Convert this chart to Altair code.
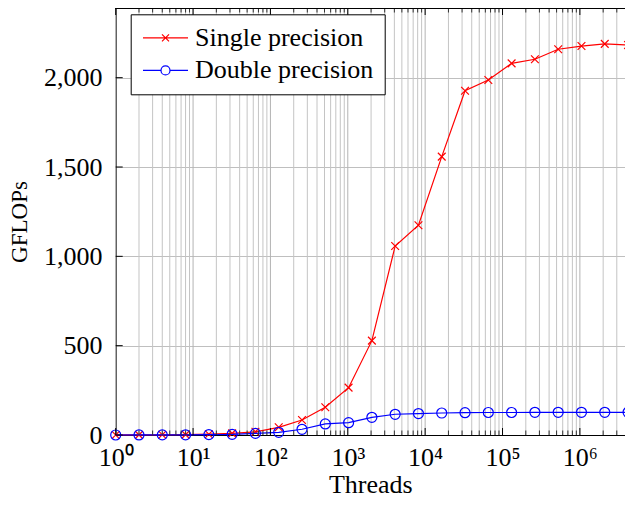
import altair as alt
import pandas as pd

# ---------------- data ----------------
threads = [1, 2, 4, 8, 16, 32, 64, 128, 256, 512, 1024, 2048, 4096, 8192,
           16384, 32768, 65536, 131072, 262144, 524288, 1048576, 2097152, 4194304]
single = [0.3, 0.6, 1.1, 2.2, 4.5, 9, 18, 43, 84, 155, 265, 528, 1058, 1174,
          1558, 1927, 1987, 2080, 2103, 2159, 2177, 2189, 2183]
double = [0.1, 0.3, 0.5, 1, 2, 4, 9, 15, 32, 62, 69, 99, 116, 120,
          123, 125, 126, 126, 127, 127, 127, 127, 127]
series_names = ["Single precision", "Double precision"]
series_colors = ["#ff0000", "#0000ff"]

X_MAX = 3830000
x_major = [1, 10, 100, 1000, 10000, 100000, 1000000]
x_minor = [m * d for d in x_major for m in [2, 3, 4, 5, 6, 7, 8, 9]]
x_minor = [v for v in x_minor if v <= X_MAX]
y_ticks = [0, 500, 1000, 1500, 2000]
x_labels = ["10\u2070", "10\u00b9", "10\u00b2", "10\u00b3", "10\u2074", "10\u2075", "10\u2076"]

W, H = 509.3, 427
FONT = "Liberation Serif"

df_s = pd.DataFrame({"threads": threads, "gflops": single, "series": series_names[0]})
df_d = pd.DataFrame({"threads": threads, "gflops": double, "series": series_names[1]})
df_all = pd.concat([df_s, df_d])
df_major = pd.DataFrame({"v": x_major})
df_minor = pd.DataFrame({"v": x_minor})
df_yt = pd.DataFrame({"v": y_ticks})

xscale = alt.Scale(type="log", domain=[1, X_MAX], nice=False)
yscale = alt.Scale(domain=[0, 2390], nice=False, zero=False)

label_arr = "[" + ",".join("'%s'" % s for s in x_labels) + "]"

x_axis = alt.Axis(values=x_major, ticks=False, grid=False, labelFlush=False,
                  labelExpr=label_arr + "[round(log(datum.value)/LN10)]",
                  labelPadding=9.5, labelFontSize=26, title="Threads",
                  titleFontSize=26, titlePadding=0.5, domainColor="black",
                  labelOverlap=False)
y_axis = alt.Axis(values=y_ticks, format=",d", ticks=False, grid=True,
                  gridColor="#bfbfbf", gridWidth=1, labelPadding=13.7,
                  labelFontSize=26, title="GFLOPs", titleFontSize=23,
                  titlePadding=12, domainColor="black", labelFlush=False)


def X(field):
    return alt.X(field, scale=xscale, axis=x_axis)


def Y(field):
    return alt.Y(field, scale=yscale, axis=y_axis)


# grid lines (vertical)
grid_minor = alt.Chart(df_minor).mark_rule(color="#c4c4c4", strokeWidth=1).encode(x=X("v:Q"))
grid_major = alt.Chart(df_major).mark_rule(color="#b3b3b3", strokeWidth=1).encode(x=X("v:Q"))

# inward ticks
tick_major_b = alt.Chart(df_major).mark_rule(color="black", strokeWidth=1).encode(
    x=X("v:Q"), y=alt.value(H), y2=alt.value(H - 7))
tick_minor_b = alt.Chart(df_minor).mark_rule(color="#333333", strokeWidth=1).encode(
    x=X("v:Q"), y=alt.value(H), y2=alt.value(H - 4.5))
tick_major_t = alt.Chart(df_major).mark_rule(color="black", strokeWidth=1).encode(
    x=X("v:Q"), y=alt.value(0), y2=alt.value(7))
tick_minor_t = alt.Chart(df_minor).mark_rule(color="#333333", strokeWidth=1).encode(
    x=X("v:Q"), y=alt.value(0), y2=alt.value(4.5))
tick_y = alt.Chart(df_yt).mark_rule(color="black", strokeWidth=1).encode(
    y=Y("v:Q"), x=alt.value(0), x2=alt.value(7))
top_border = alt.Chart(df_yt).mark_rule(color="black", strokeWidth=1).encode(
    y=alt.value(0.5), x=alt.value(0), x2=alt.value(W))

cross_path = "M-1,-1L1,1M-1,1L1,-1"

line_s = alt.Chart(df_s).mark_line(color="#ff0000", strokeWidth=1.2).encode(
    x=X("threads:Q"), y=Y("gflops:Q"))
pts_s = alt.Chart(df_s).mark_point(shape=cross_path, size=60, filled=False,
                                   color="#ff0000", strokeWidth=1.2, opacity=1).encode(
    x=X("threads:Q"), y=Y("gflops:Q"))
line_d = alt.Chart(df_d).mark_line(color="#0000ff", strokeWidth=1.2).encode(
    x=X("threads:Q"), y=Y("gflops:Q"))
pts_d = alt.Chart(df_d).mark_point(shape="circle", size=100, filled=False,
                                   color="#0000ff", strokeWidth=1.2, opacity=1).encode(
    x=X("threads:Q"), y=Y("gflops:Q"))

# legend symbols: line with marker
leg_single = "M-2.25,0L2.25,0M-0.35,-0.35L0.35,0.35M-0.35,0.35L0.35,-0.35"
leg_double = ("M-2.25,0L-0.45,0M0.45,0L2.25,0M0.45,0"
              "A0.45,0.45,0,1,1,-0.45,0A0.45,0.45,0,1,1,0.45,0")

legend_kw = dict(orient="none", legendX=15, legendY=6.3, title=None,
                 fillColor="white", strokeColor="black", padding=10.5,
                 labelFont=FONT, labelFontSize=26, labelColor="black",
                 labelLimit=400,
                 symbolSize=400, symbolStrokeWidth=1.2, symbolOffset=11.3,
                 labelOffset=16.5, rowPadding=6.6, cornerRadius=0)

legend_layer = alt.Chart(df_all).transform_filter("false").mark_point(
    filled=False, opacity=1).encode(
    x=X("threads:Q"), y=Y("gflops:Q"),
    color=alt.Color("series:N", scale=alt.Scale(domain=series_names, range=series_colors),
                    legend=alt.Legend(**legend_kw)),
    shape=alt.Shape("series:N", scale=alt.Scale(domain=series_names,
                                                range=[leg_single, leg_double]),
                    legend=alt.Legend(**legend_kw)))

chart = alt.layer(
    grid_minor, grid_major, line_s, pts_s, line_d, pts_d,
    tick_minor_b, tick_major_b, tick_minor_t, tick_major_t, tick_y, top_border,
    legend_layer
).properties(
    width=W, height=H,
    autosize="none",
    padding={"left": 107.7, "top": 0, "right": 0, "bottom": 63},
    background="white",
).configure_view(
    stroke=None
).configure_axis(
    labelFont=FONT, titleFont=FONT, titleFontWeight="normal",
    labelColor="black", titleColor="black"
)

chart.save("out.html", embed_options={"renderer": "svg", "actions": False})
